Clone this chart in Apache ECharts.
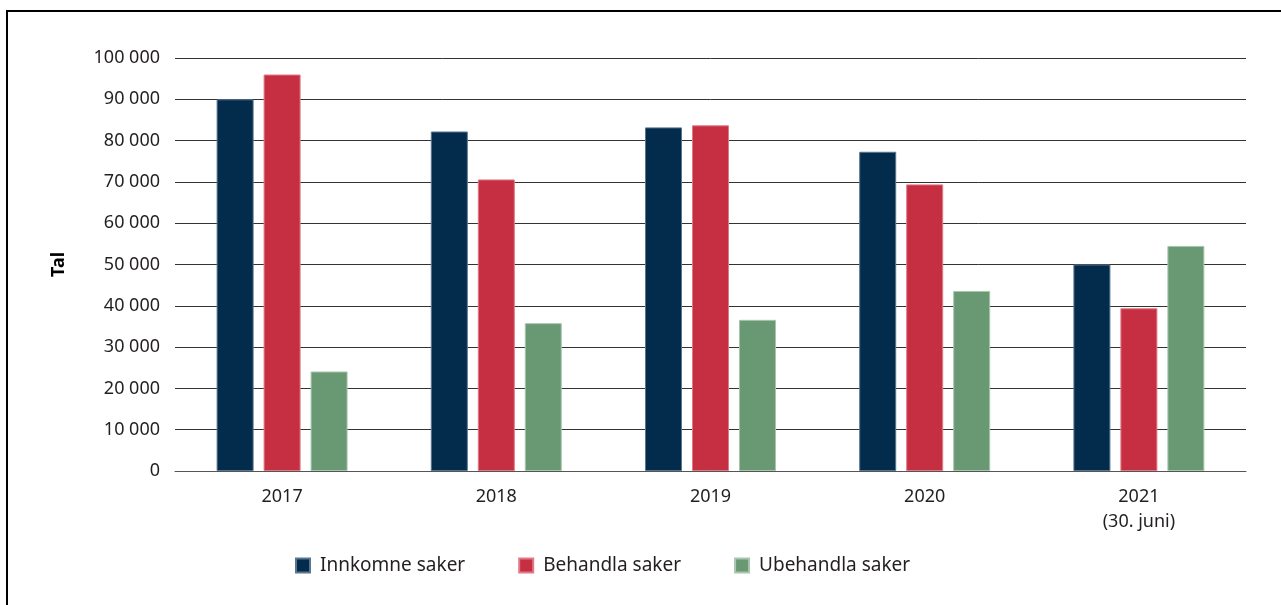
<!DOCTYPE html>
<html>
<head>
<meta charset="utf-8">
<script src="https://cdn.jsdelivr.net/npm/echarts@6/dist/echarts.min.js"></script>
<style>
html,body{margin:0;padding:0;background:#fff;}
#chart{width:1281px;height:605px;}
</style>
</head>
<body>
<div id="chart"></div>
<script>
const categories = ['2017', '2018', '2019', '2020', '2021\n(30. juni)'];
const seriesNames = ['Innkomne saker', 'Behandla saker', 'Ubehandla saker'];
const innkomne = [90000, 82200, 83200, 77300, 50000];
const behandla = [96000, 70600, 83700, 69400, 39400];
const ubehandla = [24100, 35800, 36600, 43600, 54500];
const colors = ['#032B4B', '#C62F41', '#699973'];
const yTicks = { min: 0, max: 100000, interval: 10000 };
const yName = 'Tal';

const font = 'Noto Sans';
const chart = echarts.init(document.getElementById('chart'));
function fmt(v) { return String(v).replace(/\B(?=(\d{3})+(?!\d))/g, ' '); }
const borders = ['#5a7590', '#e07a86', '#a9c6ae'];
const seriesData = [innkomne, behandla, ubehandla];
chart.setOption({
  animation: false,
  color: colors,
  textStyle: { fontFamily: font },
  grid: { left: 175, right: 35, top: 58, bottom: 134, containLabel: false },
  legend: {
    left: 290, top: 551,
    itemWidth: 14, itemHeight: 14, itemGap: 53,
    icon: 'rect',
    textStyle: { fontFamily: font, fontSize: 19, color: '#231F20', padding: [0, 0, 0, 5] },
    data: seriesNames
  },
  xAxis: {
    type: 'category',
    data: categories,
    axisTick: { show: false },
    axisLine: { lineStyle: { color: '#555', width: 1 } },
    axisLabel: { fontFamily: font, fontSize: 18, color: '#231F20', margin: 13, lineHeight: 25 }
  },
  yAxis: {
    type: 'value',
    min: yTicks.min, max: yTicks.max, interval: yTicks.interval,
    name: yName,
    nameLocation: 'middle',
    nameGap: 107,
    nameTextStyle: { fontFamily: font, fontSize: 18, fontWeight: 'bold', color: '#000' },
    axisLine: { show: false },
    axisTick: { show: false },
    axisLabel: { fontFamily: font, fontSize: 18, color: '#231F20', margin: 15, formatter: fmt },
    splitLine: { lineStyle: { color: '#333', width: 1 } }
  },
  series: seriesNames.map((n, i) => ({
    name: n,
    type: 'bar',
    data: seriesData[i],
    barWidth: 37,
    barGap: '27%',
    itemStyle: { color: colors[i], borderColor: borders[i], borderWidth: 1 }
  })),
  graphic: [
    { type: 'line', shape: { x1: 6, y1: 11, x2: 1281, y2: 11 }, style: { stroke: '#000', lineWidth: 2 } },
    { type: 'line', shape: { x1: 7, y1: 10, x2: 7, y2: 605 }, style: { stroke: '#000', lineWidth: 2 } }
  ]
});
</script>
</body>
</html>
